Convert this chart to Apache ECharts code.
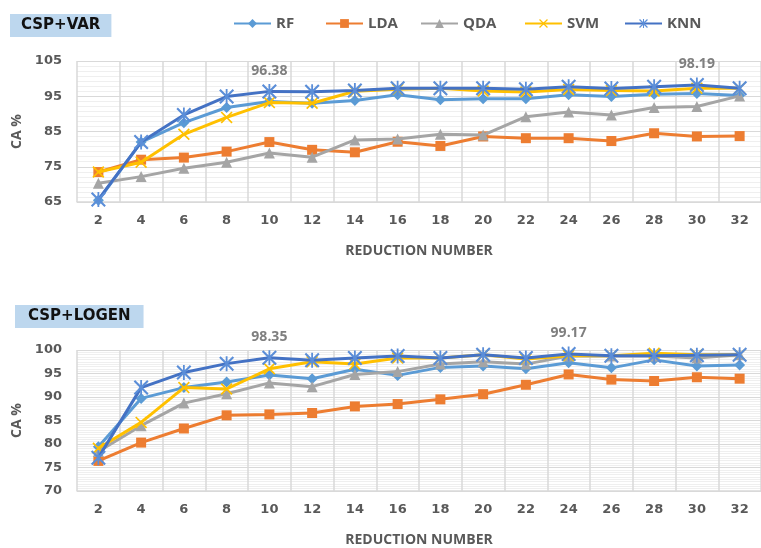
<!DOCTYPE html>
<html>
<head>
<meta charset="utf-8">
<script src="https://cdn.jsdelivr.net/npm/echarts@6/dist/echarts.min.js"></script>
<style>
  html, body { margin: 0; padding: 0; background: #fff; }
  #chart { width: 761px; height: 548px; }
</style>
</head>
<body>
<div id="chart"></div>
<script>
var redNum = ['2','4','6','8','10','12','14','16','18','20','22','24','26','28','30','32'];
var names = ['RF', 'LDA', 'QDA', 'SVM', 'KNN'];

// CSP+VAR
var varRF  = [65.5, 82.0, 87.5, 91.8, 93.5, 93.0, 93.8, 95.4, 94.0, 94.3, 94.3, 95.4, 94.9, 95.6, 95.8, 95.2];
var varLDA = [73.5, 77.0, 77.6, 79.3, 82.0, 79.8, 79.1, 82.1, 80.9, 83.6, 83.1, 83.1, 82.3, 84.5, 83.6, 83.7];
var varQDA = [70.3, 72.2, 74.6, 76.3, 78.9, 77.7, 82.6, 82.9, 84.2, 84.0, 89.2, 90.5, 89.7, 91.8, 92.1, 95.1];
var varSVM = [73.5, 76.3, 84.2, 89.0, 93.2, 93.0, 96.4, 97.0, 97.3, 96.5, 96.2, 96.9, 96.6, 96.5, 97.3, 97.3];
var varKNN = [65.7, 82.0, 89.7, 94.9, 96.38, 96.3, 96.6, 97.3, 97.3, 97.3, 97.0, 97.7, 97.2, 97.7, 98.19, 97.3];
var varMarked = [4, 14];

// CSP+LOGEN
var logRF  = [79.4, 89.7, 92.0, 93.2, 94.7, 93.9, 95.9, 94.6, 96.3, 96.6, 96.0, 97.3, 96.2, 97.9, 96.6, 96.8];
var logLDA = [76.4, 80.3, 83.3, 86.1, 86.3, 86.6, 88.0, 88.5, 89.5, 90.6, 92.6, 94.8, 93.7, 93.4, 94.2, 93.9];
var logQDA = [78.4, 83.9, 88.7, 90.7, 93.0, 92.2, 94.8, 95.4, 97.0, 97.5, 97.0, 98.7, 98.7, 98.7, 98.3, 99.0];
var logSVM = [79.1, 84.6, 92.0, 91.7, 96.0, 97.5, 97.0, 98.3, 98.3, 99.0, 98.1, 98.8, 98.8, 99.3, 99.0, 99.0];
var logKNN = [77.1, 92.0, 95.2, 97.1, 98.35, 97.8, 98.3, 98.7, 98.3, 99.0, 98.3, 99.17, 98.8, 98.8, 98.9, 99.0];
var logMarked = [4, 11];

var colors = ['#5B9BD5', '#ED7D31', '#A5A5A5', '#FFC000', '#4472C4'];
var xMark = 'path://M0,1 L1,0 L5,4 L9,0 L10,1 L6,5 L10,9 L9,10 L5,6 L1,10 L0,9 L4,5 Z';
var starMark = xMark + ' M4.4,0 L5.6,0 L5.6,10 L4.4,10 Z';
var symbols = ['diamond', 'rect', 'triangle', xMark, starMark];
var symSizes = [11, 10, 11, 12, 15];
var symColors = ['#5B9BD5', '#ED7D31', '#A5A5A5', '#FFC000', '#5B8ED8'];
var gray = '#595959';
var labelFont = 'Open Sans';

var Chart = echarts.init(document.getElementById('chart'));

function makeSeries(i, vals, g, marked) {
    var data = vals.map(function (v, k) {
        if (marked.indexOf(k) >= 0) {
            return {
                value: v,
                label: {
                    show: true, position: 'top', distance: 6,
                    color: '#7f7f7f', fontSize: 14, fontWeight: 'bold', fontFamily: labelFont
                }
            };
        }
        return v;
    });
    return {
        name: names[i],
        type: 'line',
        xAxisIndex: g,
        yAxisIndex: g,
        data: data,
        symbol: symbols[i],
        symbolSize: symSizes[i],
        showAllSymbol: true,
        itemStyle: { color: symColors[i] },
        lineStyle: { color: colors[i], width: 3 },
        z: 2 + i
    };
}

function xAxisOf(g) {
    return {
        type: 'category',
        gridIndex: g,
        data: redNum,
        boundaryGap: true,
        name: 'REDUCTION NUMBER',
        nameLocation: 'middle',
        nameGap: 42,
        nameTextStyle: { color: gray, fontSize: 14, fontWeight: 'bold', fontFamily: labelFont },
        axisLine: { lineStyle: { color: '#d9d9d9', width: 1.5 } },
        axisTick: { show: false },
        axisLabel: { color: gray, fontSize: 13, fontWeight: 'bold', fontFamily: 'DejaVu Sans', margin: 12 },
        splitLine: { show: true, lineStyle: { color: '#d9d9d9', width: 1.5 } }
    };
}

function yAxisOf(g, min, max, interval, minorSplit) {
    return {
        type: 'value',
        gridIndex: g,
        min: min,
        max: max,
        interval: interval,
        name: 'CA %',
        nameLocation: 'middle',
        nameGap: 48,
        nameTextStyle: { color: gray, fontSize: 14, fontWeight: 'bold', fontFamily: labelFont },
        axisLine: { show: false },
        axisTick: { show: false },
        axisLabel: { color: gray, fontSize: 13, fontWeight: 'bold', fontFamily: 'DejaVu Sans', margin: 15 },
        splitLine: { show: true, lineStyle: { color: '#d9d9d9', width: 1 } },
        minorTick: { show: false, splitNumber: minorSplit },
        minorSplitLine: { show: true, lineStyle: { color: '#efefef', width: 1 } }
    };
}

var legends = [228, 320, 415, 519, 619].map(function (x, i) {
    return {
        data: [names[i]],
        left: x,
        top: 11,
        itemWidth: 37,
        itemHeight: 11,
        itemGap: 0,
        textStyle: { color: gray, fontSize: 15, fontWeight: 'bold', fontFamily: labelFont }
    };
});

var series = [];
[varRF, varLDA, varQDA, varSVM, varKNN].forEach(function (v, i) {
    series.push(makeSeries(i, v, 0, i === 4 ? varMarked : []));
});
[logRF, logLDA, logQDA, logSVM, logKNN].forEach(function (v, i) {
    series.push(makeSeries(i, v, 1, i === 4 ? logMarked : []));
});

option = {
    animation: false,
    title: [{
        text: 'CSP+VAR',
        left: 10, top: 14,
        backgroundColor: '#bdd7ee',
        padding: [4, 11],
        textStyle: { color: '#111', fontSize: 15, fontWeight: 'bold', fontFamily: 'DejaVu Sans' }
    }, {
        text: 'CSP+LOGEN',
        left: 15, top: 305,
        backgroundColor: '#bdd7ee',
        padding: [4, 13],
        textStyle: { color: '#111', fontSize: 15, fontWeight: 'bold', fontFamily: 'DejaVu Sans' }
    }],
    legend: legends,
    grid: [
        { left: 77, top: 61, width: 687, height: 141 },
        { left: 77, top: 350, width: 697, height: 151 }
    ],
    xAxis: [xAxisOf(0), xAxisOf(1)],
    yAxis: [yAxisOf(0, 65, 105, 10, 7), yAxisOf(1, 70, 100, 5, 10)],
    series: series
};
Chart.setOption(option);
</script>
</body>
</html>
